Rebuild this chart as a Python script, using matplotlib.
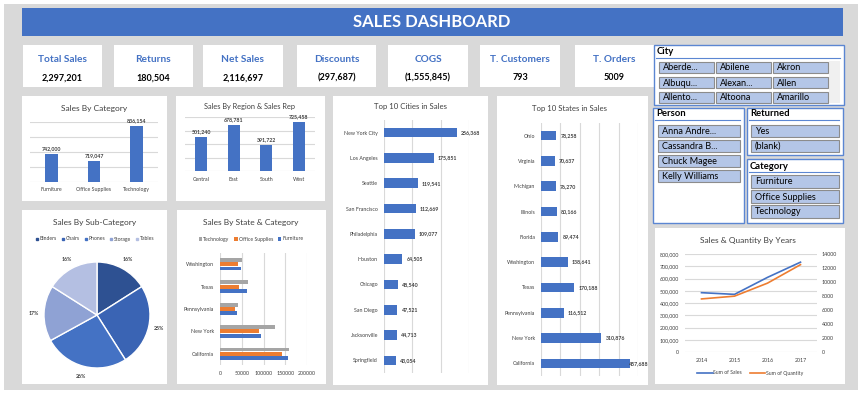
import numpy as np
import matplotlib.pyplot as plt
from matplotlib.patches import Rectangle
from matplotlib.lines import Line2D
from matplotlib.ticker import FuncFormatter

plt.rcParams['font.family'] = ['Lato', 'DejaVu Sans']

BLUE = '#4472C4'
ORANGE = '#ED7D31'
GRAY = '#A5A5A5'
GRID = '#D9D9D9'
TXT = '#404040'

kpi_names = ["Total Sales", "Returns", "Net Sales", "Discounts", "COGS", "T. Customers", "T. Orders"]
kpi_values = ["2,297,201", "180,504", "2,116,697", "(297,687)", "(1,555,845)", "793", "5009"]

categories = ["Furniture", "Office Supplies", "Technology"]
category_sales = [741999.8, 719047, 836154]

regions = ["Central", "East", "South", "West"]
region_sales = [501240, 678781, 391722, 725458]

cities = ["New York City", "Los Angeles", "Seattle", "San Francisco", "Philadelphia",
          "Houston", "Chicago", "San Diego", "Jacksonville", "Springfield"]
city_sales = [256368, 175851, 119541, 112669, 109077, 64505, 48540, 47521, 44713, 43054]

states = ["Ohio", "Virginia", "Michigan", "Illinois", "Florida",
          "Washington", "Texas", "Pennsylvania", "New York", "California"]
state_sales = [78258, 70637, 76270, 80166, 89474, 138641, 170188, 116512, 310876, 457688]

sub_categories = ["Binders", "Chairs", "Phones", "Storage", "Tables"]
sub_share = [16, 25, 26, 17, 16]

sc_states = ["California", "New York", "Pennsylvania", "Texas", "Washington"]
sc_furniture = [156000, 93500, 39000, 61000, 47500]
sc_office = [142500, 90500, 35000, 44500, 40500]
sc_technology = [159500, 127000, 42000, 64000, 50500]

years = ["2014", "2015", "2016", "2017"]
year_sales = [484247, 470533, 609206, 733215]
year_quantity = [7581, 7979, 9837, 12476]

city_items = ["Aberde...", "Abilene", "Akron", "Albuqu...", "Alexan...", "Allen",
              "Allento...", "Altoona", "Amarillo"]
person_items = ["Anna Andre...", "Cassandra B...", "Chuck Magee", "Kelly Williams"]
returned_items = ["Yes", "(blank)"]

W, H = 868, 394
fig = plt.figure(figsize=(W / 100, H / 100), dpi=100)


def rect(x0, y0, x1, y1, z=-2, **kw):
    fig.add_artist(Rectangle((x0 / W, 1 - y1 / H), (x1 - x0) / W, (y1 - y0) / H,
                             transform=fig.transFigure, zorder=z, **kw))


def line(x0, x1, y, **kw):
    fig.add_artist(Line2D([x0 / W, x1 / W], [1 - y / H, 1 - y / H],
                          transform=fig.transFigure, **kw))


def text(x, y, s, **kw):
    kw.setdefault('va', 'center')
    fig.text(x / W, 1 - y / H, s, **kw)


def axes(x0, y0, x1, y1):
    ax = fig.add_axes([x0 / W, 1 - y1 / H, (x1 - x0) / W, (y1 - y0) / H])
    ax.set_facecolor('none')
    for s in ax.spines.values():
        s.set_visible(False)
    ax.tick_params(length=0, labelsize=3.8, labelcolor=TXT)
    return ax


# background, banner
rect(4, 4, 858, 390, z=-3, fc='#D9D9D9', ec='none')
rect(22, 8, 843, 36, fc=BLUE, ec='none')
text(432, 22, "SALES DASHBOARD", ha='center', color='white', fontsize=12, fontweight='bold')

# KPI cards
card_x = [(23, 102), (114, 193), (203, 283), (297, 376), (388, 468), (480, 560), (575, 654)]
for (x0, x1), name, val in zip(card_x, kpi_names, kpi_values):
    rect(x0, 45, x1, 87, fc='white', ec='none')
    text((x0 + x1) / 2, 60, name, ha='center', color=BLUE, fontsize=7.3, fontweight='bold')
    text((x0 + x1) / 2, 78, val, ha='center', color='black', fontsize=6.5, fontweight='bold')

# panels
for box in [(22, 96, 167, 201), (176, 96, 325, 201), (333, 96, 488, 385), (497, 96, 648, 385),
            (22, 210, 167, 384), (177, 210, 326, 384), (655, 228, 845, 384)]:
    rect(*box, fc='white', ec='none')

# Sales By Category
text(94, 108, "Sales By Category", ha='center', color=TXT, fontsize=6)
ax = axes(30, 122, 158, 182)
x = np.arange(len(categories))
ax.bar(x, category_sales, width=0.3, color=BLUE, zorder=2)
ax.set_ylim(650000, 850000)
ax.set_yticks(np.arange(650000, 850001, 50000))
ax.yaxis.grid(True, color=GRID, lw=0.8)
ax.tick_params(labelleft=False, pad=3.5)
ax.set_xlim(-0.5, 2.5)
ax.set_xticks(x, categories)
for xi, v in zip(x, category_sales):
    ax.annotate(f"{v:,.0f}", (xi, v), xytext=(0, 2), textcoords='offset points',
                ha='center', va='bottom', fontsize=3.8, color=TXT, fontweight='bold')

# Sales By Region
text(250, 107, "Sales By Region & Sales Rep", ha='center', color=TXT, fontsize=5.3)
ax = axes(185, 117, 315, 171)
x = np.arange(len(regions))
ax.bar(x, region_sales, width=0.37, color=BLUE, zorder=2)
ax.set_ylim(0, 800000)
ax.set_yticks(np.arange(0, 800001, 200000))
ax.yaxis.grid(True, color=GRID, lw=0.8)
ax.tick_params(labelleft=False, pad=4)
ax.set_xlim(-0.5, 3.5)
ax.set_xticks(x, regions)
for xi, v in zip(x, region_sales):
    ax.annotate(f"{v:,.0f}", (xi, v), xytext=(0, 2), textcoords='offset points',
                ha='center', va='bottom', fontsize=3.8, color=TXT, fontweight='bold')


def top10(ax, names, vals, xmax, cap):
    y = np.arange(len(names))
    ax.barh(y, vals, height=0.38, color=BLUE, zorder=2)
    ax.set_ylim(len(names) - 0.5, -0.5)
    ax.set_xlim(0, xmax)
    ax.set_xticks(np.arange(0, xmax + 1, 100000))
    ax.xaxis.grid(True, color=GRID, lw=0.8)
    ax.tick_params(labelbottom=False, pad=4.3)
    ax.set_yticks(y, names)
    for yi, v in zip(y, vals):
        ax.annotate(f"{v:,.0f}", (min(v, cap), yi), xytext=(3, 0), textcoords='offset points',
                    ha='left', va='center', fontsize=3.8, color=TXT, fontweight='bold')


text(410, 107, "Top 10 Cities in Sales", ha='center', color=TXT, fontsize=5.6)
ax = axes(384, 120, 469, 373)
top10(ax, cities, city_sales, 300000, 300000)

text(570, 109, "Top 10 States in Sales", ha='center', color=TXT, fontsize=5.6)
ax = axes(541, 123, 638, 376)
top10(ax, states, state_sales, 500000, 430000)

# Sales By Sub-Category
text(95, 222, "Sales By Sub-Category", ha='center', color=TXT, fontsize=6)
pie_colors = ['#2E5192', '#3A64B4', '#4472C4', '#8FA2D4', '#B4BFE2']
ax = axes(44, 262, 150, 368)
ax.pie(sub_share, colors=pie_colors, startangle=90, counterclock=False,
       wedgeprops=dict(edgecolor='white', linewidth=1), autopct='%.0f%%', pctdistance=1.2,
       textprops=dict(fontsize=3.8, color=TXT, fontweight='bold'))
ax.set_xlim(-1, 1)
ax.set_ylim(-1, 1)
handles = [Line2D([], [], marker='s', ls='none', color=c, markersize=2) for c in pie_colors]
fig.legend(handles, sub_categories, loc='center', bbox_to_anchor=(95 / W, 1 - 239 / H), ncol=5,
           frameon=False, fontsize=3.7, handlelength=0.6, handletextpad=0.2, columnspacing=0.9,
           labelcolor=TXT)

# Sales By State & Category
text(251, 222, "Sales By State & Category", ha='center', color=TXT, fontsize=6)
ax = axes(220, 253, 307, 365)
y = np.arange(len(sc_states))
b1 = ax.barh(y - 0.19, sc_furniture, 0.17, color=BLUE, zorder=2)
b2 = ax.barh(y, sc_office, 0.17, color=ORANGE, zorder=2)
b3 = ax.barh(y + 0.19, sc_technology, 0.17, color=GRAY, zorder=2)
ax.set_ylim(-0.5, 4.5)
ax.set_yticks(y, sc_states)
ax.set_xlim(0, 200000)
ax.set_xticks(np.arange(0, 200001, 50000))
ax.xaxis.grid(True, color=GRID, lw=0.8)
ax.tick_params(pad=4.3)
fig.legend([b3, b2, b1], ["Technology", "Office Supplies", "Furniture"], loc='center',
           bbox_to_anchor=(251 / W, 1 - 239 / H), ncol=3, frameon=False, fontsize=3.7,
           handlelength=0.7, handleheight=0.7, handletextpad=0.2, columnspacing=0.9, labelcolor=TXT)

# Sales & Quantity By Years
text(748, 240, "Sales & Quantity By Years", ha='center', color=TXT, fontsize=6)
ax = axes(685, 254, 817, 352)
x = np.arange(len(years))
l1, = ax.plot(x, year_sales, color=BLUE, lw=1.2)
ax.set_ylim(0, 800000)
ax.set_yticks(np.arange(0, 800001, 100000))
ax.yaxis.set_major_formatter(FuncFormatter(lambda v, p: f"{v:,.0f}"))
ax.yaxis.grid(True, color=GRID, lw=0.8)
ax.set_xlim(-0.5, 3.5)
ax.set_xticks(x, years)
ax.tick_params(axis='y', pad=4.3)
ax.tick_params(axis='x', pad=4)
ax2 = ax.twinx()
for s in ax2.spines.values():
    s.set_visible(False)
l2, = ax2.plot(x, year_quantity, color=ORANGE, lw=1.2)
ax2.set_ylim(0, 14000)
ax2.set_yticks(np.arange(0, 14001, 2000))
ax2.tick_params(length=0, labelsize=3.8, labelcolor=TXT, pad=3.6)
fig.legend([l1, l2], ["Sum of Sales", "Sum of Quantity"], loc='center',
           bbox_to_anchor=(750 / W, 1 - 373 / H), ncol=2, frameon=False, fontsize=3.7,
           handlelength=3, handletextpad=0.1, columnspacing=1.5, labelcolor=TXT)

# slicers
SL = '#5B86D2'


def slicer_box(x0, y0, x1, y1, title, ty):
    rect(x0, y0, x1, y1, fc='white', ec=SL, lw=1)
    text(x0 + 3, ty, title, ha='left', color='black', fontsize=6.8, fontweight='bold')
    line(x0 + 2, x1 - 4, ty + 6, color=SL, lw=0.8)


def button(x0, y0, x1, y1, label):
    rect(x0, y0, x1, y1, z=1, fc='#B4C6E7', ec='#8C8C8C', lw=0.8)
    text(x0 + 4, (y0 + y1) / 2 + 0.5, label, ha='left', color='black', fontsize=6.6)


slicer_box(654, 45, 844, 105, "City", 52)
rect(829, 61, 840, 103, z=1, fc='#F0F0F0', ec='none')
for i, item in enumerate(city_items):
    cx = [659, 716, 773][i % 3]
    cy = [62, 77, 92][i // 3]
    button(cx, cy, cx + 55, cy + 11, item)

slicer_box(653, 108, 744, 223, "Person", 114)
for i, item in enumerate(person_items):
    button(658, 125 + 15 * i, 740, 137 + 15 * i, item)

slicer_box(747, 108, 843, 155, "Returned", 114)
for i, item in enumerate(returned_items):
    button(751, 125 + 15 * i, 839, 137 + 15 * i, item)

slicer_box(747, 159, 843, 223, "Category", 166)
for i, item in enumerate(categories):
    button(751, 175 + 15 * i, 839, 188 + 15 * i, item)

fig.savefig("out.png", dpi=100)
